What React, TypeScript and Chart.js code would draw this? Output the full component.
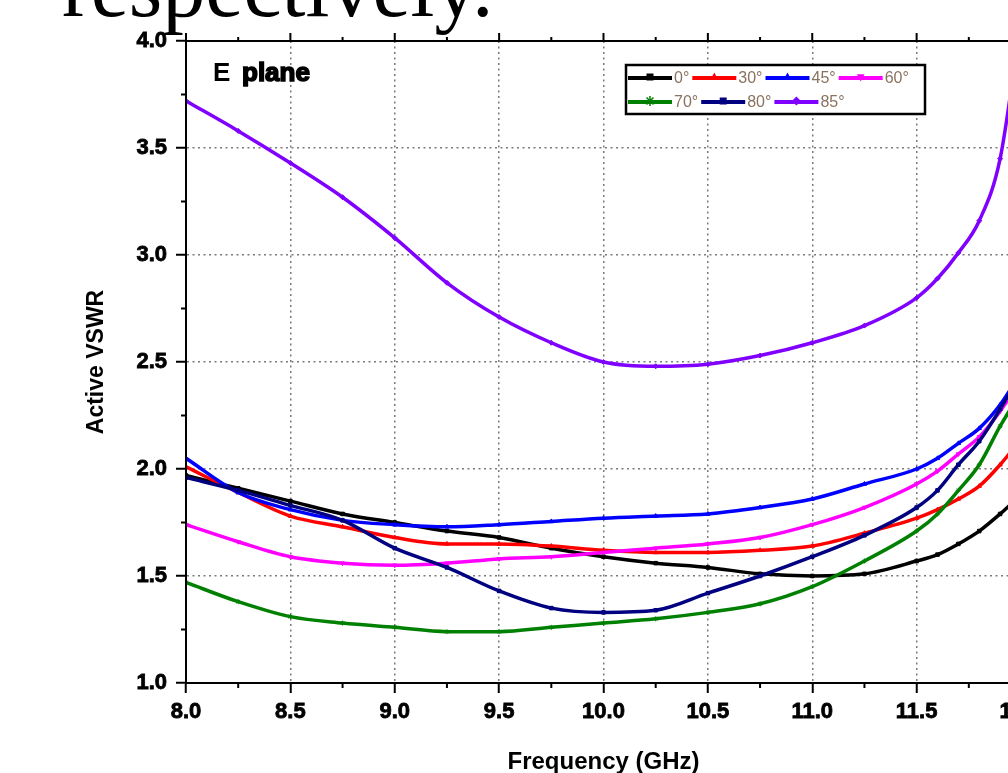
import React, { useEffect, useRef } from "react";
import { Chart, registerables } from "chart.js";

Chart.register(...registerables);

// ---------------- data ----------------
const frequencyGHz = [8.0, 8.25, 8.5, 8.75, 9.0, 9.25, 9.5, 9.75, 10.0, 10.25, 10.5, 10.75, 11.0, 11.25, 11.5, 11.6, 11.7, 11.8, 11.9, 12.0];

const vswr0 = [1.97, 1.91, 1.85, 1.79, 1.75, 1.71, 1.68, 1.63, 1.59, 1.56, 1.54, 1.51, 1.5, 1.51, 1.57, 1.6, 1.65, 1.71, 1.79, 1.88];
const vswr30 = [2.01, 1.89, 1.78, 1.73, 1.68, 1.65, 1.65, 1.64, 1.62, 1.61, 1.61, 1.62, 1.64, 1.7, 1.77, 1.81, 1.86, 1.92, 2.02, 2.14];
const vswr45 = [2.05, 1.89, 1.81, 1.76, 1.74, 1.73, 1.74, 1.755, 1.77, 1.78, 1.79, 1.82, 1.86, 1.93, 2.0, 2.05, 2.12, 2.19, 2.3, 2.45];
const vswr60 = [1.74, 1.66, 1.59, 1.56, 1.55, 1.56, 1.58, 1.59, 1.61, 1.63, 1.65, 1.68, 1.74, 1.82, 1.93, 1.99, 2.07, 2.15, 2.27, 2.42];
const vswr70 = [1.47, 1.38, 1.31, 1.28, 1.26, 1.24, 1.24, 1.26, 1.28, 1.3, 1.33, 1.37, 1.45, 1.57, 1.71, 1.79, 1.9, 2.02, 2.2, 2.36];
const vswr80 = [1.96, 1.9, 1.83, 1.76, 1.63, 1.54, 1.43, 1.35, 1.33, 1.34, 1.42, 1.5, 1.59, 1.69, 1.82, 1.9, 2.02, 2.13, 2.28, 2.45];
const vswr85 = [3.72, 3.58, 3.43, 3.27, 3.08, 2.87, 2.71, 2.59, 2.5, 2.48, 2.49, 2.53, 2.59, 2.67, 2.8, 2.89, 3.01, 3.16, 3.45, 4.1];

const seriesValues = [vswr0, vswr30, vswr45, vswr60, vswr70, vswr80, vswr85];
const seriesLabels = ["0°", "30°", "45°", "60°", "70°", "80°", "85°"];
const seriesColors = ["#000000", "#ff0000", "#0000ff", "#ff00ff", "#008000", "#000080", "#8000ff"];
const seriesMarkers = ["rect", "triangle", "triangle", "triangle", "star", "rect", "rectRot"];
const seriesMarkerRotation = [0, 0, 0, 180, 0, 0, 0];

const xMin = 8.0;
const xMax = 12.0;
const xStep = 0.5;
const yMin = 1.0;
const yMax = 4.0;
const yStep = 0.5;

const xTitle = "Frequency (GHz)";
const yTitle = "Active VSWR";
const planeLabel = ["E", "plane"];

// ---------------- helpers ----------------
function drawMarker(ctx: CanvasRenderingContext2D, style: string, rot: number, x: number, y: number, r: number, color: string) {
  ctx.save();
  ctx.translate(x, y);
  ctx.rotate((rot * Math.PI) / 180);
  ctx.fillStyle = color;
  ctx.strokeStyle = color;
  ctx.lineWidth = 1.5;
  ctx.beginPath();
  if (style === "rect") {
    ctx.rect(-r, -r, 2 * r, 2 * r);
    ctx.fill();
  } else if (style === "rectRot") {
    ctx.moveTo(0, -r * 1.3);
    ctx.lineTo(r * 1.3, 0);
    ctx.lineTo(0, r * 1.3);
    ctx.lineTo(-r * 1.3, 0);
    ctx.closePath();
    ctx.fill();
  } else if (style === "triangle") {
    ctx.moveTo(0, -r * 1.3);
    ctx.lineTo(r * 1.1, r * 0.8);
    ctx.lineTo(-r * 1.1, r * 0.8);
    ctx.closePath();
    ctx.fill();
  } else {
    ctx.moveTo(0, -r * 1.4);
    ctx.lineTo(0, r * 1.4);
    ctx.moveTo(-r, -r);
    ctx.lineTo(r, r);
    ctx.moveTo(r, -r);
    ctx.lineTo(-r, r);
    ctx.stroke();
  }
  ctx.restore();
}

const decorPlugin = {
  id: "decor",
  afterDraw(chart: any) {
    const { ctx, chartArea: a, scales } = chart;
    const xs = scales.x;
    const ys = scales.y;
    ctx.save();
    ctx.setLineDash([]);
    // frame
    ctx.strokeStyle = "#000";
    ctx.lineWidth = 2;
    ctx.strokeRect(a.left, a.top, a.right - a.left, a.bottom - a.top);

    // ticks
    const xv = xs.ticks.map((t: any) => t.value);
    const yv = ys.ticks.map((t: any) => t.value);
    ctx.beginPath();
    for (let i = 0; i < xv.length; i++) {
      const px = xs.getPixelForValue(xv[i]);
      ctx.moveTo(px, a.top);
      ctx.lineTo(px, a.top - 8);
      if (i < xv.length - 1) {
        const pm = xs.getPixelForValue((xv[i] + xv[i + 1]) / 2);
        ctx.moveTo(pm, a.bottom);
        ctx.lineTo(pm, a.bottom + 5);
        ctx.moveTo(pm, a.top);
        ctx.lineTo(pm, a.top - 4);
      }
    }
    for (let i = 0; i < yv.length; i++) {
      const py = ys.getPixelForValue(yv[i]);
      ctx.moveTo(a.right, py);
      ctx.lineTo(a.right + 8, py);
      if (i < yv.length - 1) {
        const pm = ys.getPixelForValue((yv[i] + yv[i + 1]) / 2);
        ctx.moveTo(a.left, pm);
        ctx.lineTo(a.left - 5, pm);
        ctx.moveTo(a.right, pm);
        ctx.lineTo(a.right + 4, pm);
      }
    }
    ctx.stroke();

    // "E plane"
    ctx.fillStyle = "#000";
    ctx.textBaseline = "alphabetic";
    ctx.textAlign = "left";
    ctx.font = 'bold 26px "Liberation Sans", Arial, sans-serif';
    ctx.fillText(planeLabel[0], a.left + 27, a.top + 40);
    ctx.lineWidth = 1.6;
    ctx.strokeStyle = "#000";
    ctx.fillText(planeLabel[1], a.left + 56, a.top + 40);
    ctx.strokeText(planeLabel[1], a.left + 56, a.top + 40);

    // legend
    const bx = a.left + 440;
    const by = a.top + 24;
    const bw = 299;
    const bh = 49;
    ctx.fillStyle = "#fff";
    ctx.fillRect(bx, by, bw, bh);
    ctx.strokeStyle = "#000";
    ctx.lineWidth = 2.5;
    ctx.strokeRect(bx, by, bw, bh);
    ctx.font = '16px "Liberation Sans", Arial, sans-serif';
    ctx.textBaseline = "middle";
    const rows = [
      [0, 1, 2, 3],
      [4, 5, 6],
    ];
    const datasets = chart.data.datasets;
    rows.forEach((row, ri) => {
      let x = bx + 2;
      const y = by + 13 + ri * 24;
      row.forEach((di) => {
        const ds = datasets[di];
        ctx.strokeStyle = ds.borderColor;
        ctx.lineWidth = 4;
        ctx.beginPath();
        ctx.moveTo(x, y);
        ctx.lineTo(x + 44, y);
        ctx.stroke();
        drawMarker(ctx, seriesMarkers[di], seriesMarkerRotation[di], x + 22, y - 1, 3.5, ds.borderColor);
        ctx.fillStyle = "#8a7260";
        ctx.fillText(ds.label, x + 46, y + 1);
        x += 46 + ctx.measureText(ds.label).width + 3;
      });
    });
    ctx.restore();
  },
};

export default function App() {
  const canvasRef = useRef<HTMLCanvasElement | null>(null);

  useEffect(() => {
    if (!canvasRef.current) return;
    const tickFont = { family: '"Liberation Sans", Arial, sans-serif', size: 22, weight: "bold" as const };
    const gridOpts = {
      color: "#7a7a7a",
      lineWidth: 1.5,
      tickLength: 10,
      tickColor: "#000",
      tickWidth: 2,
      tickBorderDash: [],
    };
    const chart = new Chart(canvasRef.current, {
      type: "line",
      data: {
        datasets: seriesLabels.map((label, i) => ({
          label,
          data: frequencyGHz.map((f, j) => ({ x: f, y: seriesValues[i][j] })),
          borderColor: seriesColors[i],
          backgroundColor: seriesColors[i],
          borderWidth: 3.5,
          pointRadius: 2.5,
          pointStyle: seriesMarkers[i] as any,
          pointRotation: seriesMarkerRotation[i],
          pointBorderWidth: 1,
          cubicInterpolationMode: "monotone" as const,
          fill: false,
          order: seriesLabels.length - i,
        })),
      },
      options: {
        animation: false,
        responsive: false,
        maintainAspectRatio: false,
        layout: { padding: { left: 0, top: 41, right: 79, bottom: 0 } },
        plugins: { legend: { display: false }, tooltip: { enabled: false } },
        scales: {
          x: {
            type: "linear",
            position: "bottom",
            min: xMin,
            max: xMax,
            afterFit: (s: any) => {
              s.height = 117;
            },
            ticks: {
              stepSize: xStep,
              autoSkip: false,
              maxRotation: 0,
              padding: 6,
              color: "#000",
              font: tickFont,
              textStrokeColor: "#000",
              textStrokeWidth: 0.8,
              callback: (v: any) => Number(v).toFixed(1),
            },
            grid: gridOpts,
            border: { display: true, color: "#000", width: 2, dash: [2, 3.5] },
            title: {
              display: true,
              text: xTitle,
              color: "#000",
              font: { family: '"Liberation Sans", Arial, sans-serif', size: 24, weight: "bold" },
              padding: { top: 0, bottom: 23.6 },
            },
          },
          y: {
            type: "linear",
            position: "left",
            min: yMin,
            max: yMax,
            afterFit: (s: any) => {
              s.width = 186;
            },
            ticks: {
              stepSize: yStep,
              autoSkip: false,
              padding: 9,
              color: "#000",
              font: tickFont,
              textStrokeColor: "#000",
              textStrokeWidth: 0.8,
              callback: (v: any) => Number(v).toFixed(1),
            },
            grid: gridOpts,
            border: { display: true, color: "#000", width: 2, dash: [2, 3.5] },
            title: {
              display: true,
              text: yTitle,
              color: "#000",
              font: { family: '"Liberation Sans", Arial, sans-serif', size: 23, weight: "bold" },
              padding: { top: 83, bottom: 0 },
            },
          },
        },
      },
      plugins: [decorPlugin],
    } as any);
    return () => chart.destroy();
  }, []);

  return (
    <div
      style={{
        position: "fixed",
        left: 0,
        top: 0,
        width: 1008,
        height: 773,
        overflow: "hidden",
        background: "#fff",
      }}
    >
      <div
        style={{
          position: "absolute",
          left: 62,
          top: -56,
          fontFamily: '"Liberation Serif", serif',
          fontSize: 86,
          lineHeight: "86px",
          color: "#000",
          whiteSpace: "nowrap",
        }}
      >
        respectively.
      </div>
      <canvas
        ref={canvasRef}
        width={1100}
        height={800}
        style={{ position: "absolute", left: 0, top: 0, width: 1100, height: 800 }}
      />
    </div>
  );
}
